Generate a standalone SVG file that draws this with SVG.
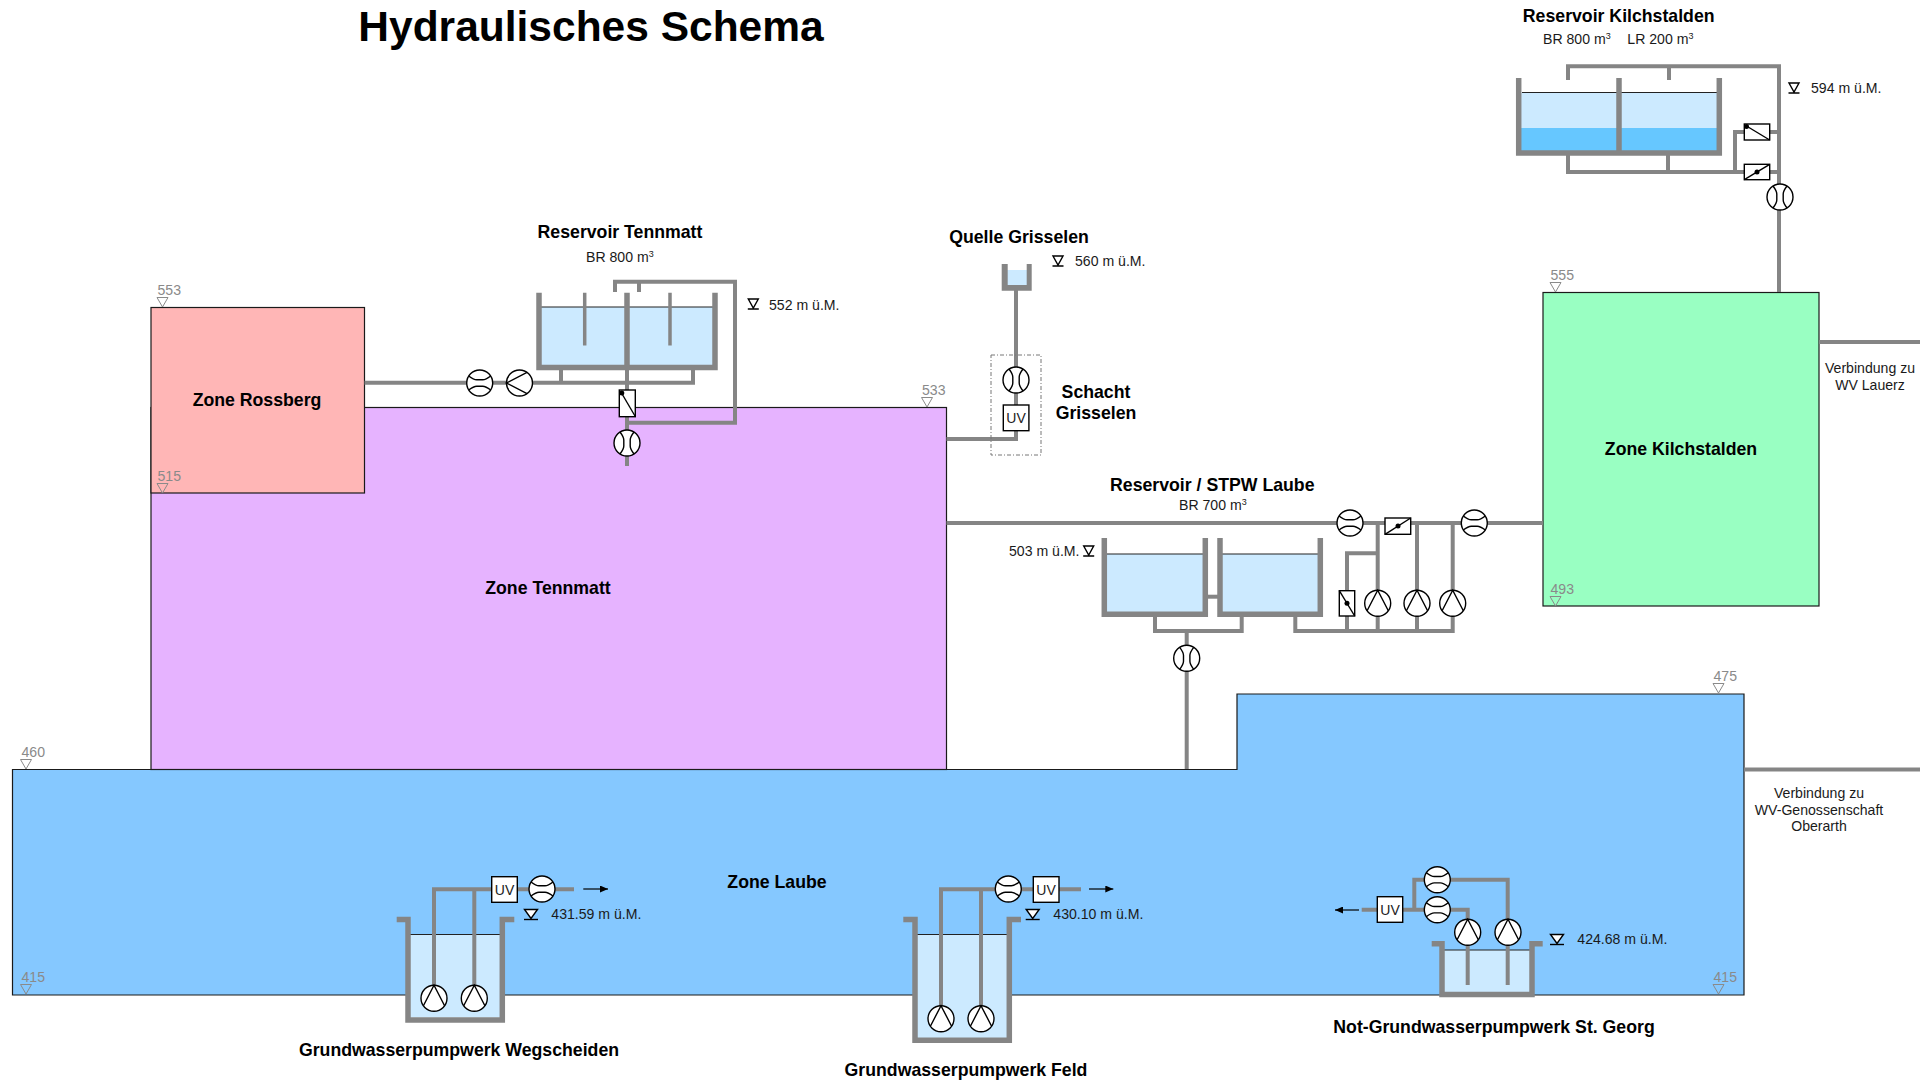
<svg xmlns="http://www.w3.org/2000/svg" xmlns:xlink="http://www.w3.org/1999/xlink" width="1930" height="1082" viewBox="0 0 1930 1082">
<style>
text{font-family:"Liberation Sans",Arial,sans-serif;fill:#1a1a1a}
.t{font-size:17.7px;font-weight:bold;text-anchor:middle;fill:#000}
.s{font-size:14.1px}
.c{text-anchor:middle}
.g{font-size:14.1px;fill:#8a8a8a}
.sup{font-size:9px}
.z{stroke:#1a1a1a;stroke-width:1.2}
.p{fill:none;stroke:#858585;stroke-width:4}
.w{fill:none;stroke:#858585;stroke-width:5.5}
.b{fill:none;stroke:#858585;stroke-width:3.5}
.water{fill:#cceaff}
.surf{stroke:#222;stroke-width:1.2;fill:none}
.sym{fill:#fff;stroke:#000;stroke-width:1.4}
.ln{fill:none;stroke:#000;stroke-width:1.4}
.uv{font-size:14px;text-anchor:middle;fill:#222}
.gt{fill:none;stroke:#8a8a8a;stroke-width:1}
</style>
<defs>
<g id="fmH"><circle class="sym" r="13"/><path class="ln" d="M-11,-7Q-6,-3.2 -3,-3.2H3Q6,-3.2 11,-7M-11,7Q-6,3.2 -3,3.2H3Q6,3.2 11,7"/></g>
<g id="fmV"><circle class="sym" r="13"/><path class="ln" d="M-7,-11Q-3.2,-6 -3.2,-3V3Q-3.2,6 -7,11M7,-11Q3.2,-6 3.2,-3V3Q3.2,6 7,11"/></g>
<g id="pumpU"><circle class="sym" r="13"/><path class="ln" d="M-10.6,7.5L0,-13L10.6,7.5"/></g>
<g id="pumpL"><circle class="sym" r="13"/><path class="ln" d="M7.5,-10.6L-13,0L7.5,10.6"/></g>
<g id="lv"><path class="ln" d="M-5,0H5L0,9ZM-5.5,10H5.5"/></g>
<g id="lvw"><path class="sym" d="M-6.5,0H6.5L0,9Z"/><path class="ln" d="M-7,10H7"/></g>
<g id="zl"><path class="gt" d="M-5.5,-9.5H5.5L0,0Z"/></g>
<marker id="arr" markerWidth="9" markerHeight="7" refX="8" refY="3.5" orient="auto" markerUnits="userSpaceOnUse"><path d="M0,0L8,3.5L0,7Z" fill="#000"/></marker>
</defs>
<rect width="1930" height="1082" fill="#fff"/>

<g id="zone-laube"><path class="z" fill="#85c8ff" d="M12.500,769.500H1237V694H1744V995H12.500Z"/><text class="t" x="777" y="888">Zone Laube</text></g>
<g id="zone-tennmatt"><rect class="z" fill="#e6b3ff" x="151" y="407.500" width="795.500" height="362"/><text class="t" x="548" y="594">Zone Tennmatt</text></g>
<g id="zone-rossberg"><rect class="z" fill="#ffb6b6" x="151" y="307.500" width="213.500" height="185.500"/><text class="t" x="257" y="406">Zone Rossberg</text></g>
<g id="zone-kilchstalden"><rect class="z" fill="#99ffc2" x="1543" y="292.500" width="276" height="313.500"/><text class="t" x="1681" y="455">Zone Kilchstalden</text></g>

<g id="zone-levels">
<use href="#zl" x="162.500" y="307"/><text class="g" x="157.500" y="295">553</text>
<use href="#zl" x="162.500" y="493"/><text class="g" x="157.500" y="481">515</text>
<use href="#zl" x="927" y="407"/><text class="g" x="922" y="395">533</text>
<use href="#zl" x="26" y="769"/><text class="g" x="21.500" y="757">460</text>
<use href="#zl" x="26" y="994"/><text class="g" x="21.500" y="982">415</text>
<use href="#zl" x="1718.500" y="693"/><text class="g" x="1713.500" y="681">475</text>
<use href="#zl" x="1718.500" y="994"/><text class="g" x="1713.500" y="982">415</text>
<use href="#zl" x="1555.500" y="292"/><text class="g" x="1550.500" y="280">555</text>
<use href="#zl" x="1555.500" y="606"/><text class="g" x="1550.500" y="594">493</text>
</g>

<g id="title"><text x="591" y="41" font-size="42.5" font-weight="bold" text-anchor="middle" style="fill:#000">Hydraulisches Schema</text></g>

<g id="tanks-water">
<rect class="water" x="541" y="307" width="172" height="59"/>
<rect class="water" x="1520" y="92.500" width="198" height="58"/>
<rect x="1520" y="128" width="198" height="23" fill="#66c7ff"/>
<rect class="water" x="1007" y="270" width="20" height="16"/>
<rect class="water" x="1106" y="554" width="98" height="59"/>
<rect class="water" x="1222" y="554" width="97" height="59"/>
<rect class="water" x="410" y="934.500" width="91" height="83"/>
<rect class="water" x="917" y="934.500" width="91" height="104"/>
<rect class="water" x="1444" y="950" width="87" height="43"/>
<path class="surf" d="M541,307H713M1522,92.500H1717M1106,554H1204M1222,554H1319M410,934.500H501M917,934.500H1008M1444,950H1531"/>
</g>

<g id="connectors">
<path class="p" d="M364.500,382.700H693V368M561,368V382.700"/>
<path class="p" d="M627,368V466"/>
<path class="p" d="M627,422.700H735V281.700H615V292M639,281.700V292"/>
<path class="p" d="M1016,288V439H946.500"/>
<path class="p" d="M946.500,523H1543"/>
<path class="p" d="M1155,615V631H1241.700V615M1186.700,631V769"/>
<path class="p" d="M1205,596.700H1220"/>
<path class="p" d="M1295.300,615V631H1452.700V523M1347,631V553.300H1377.700M1377.700,631V523M1417,631V523"/>
<path class="p" d="M1568,80V66.300H1779V292M1669,66.300V80"/>
<path class="p" d="M1568,154V172H1779M1668,154V172M1735,172V132H1779"/>
<path class="p" d="M1819,342H1920M1744,769.500H1920"/>
<path class="p" d="M434,998V889.300H574M474.300,998V889.300"/>
<path class="p" d="M941,1018V889.300H1081M981,1018V889.300"/>
<path class="p" d="M1361.700,909.700H1467.700V932M1414.300,909.700V879.700H1507.700V985M1467.700,932V985"/>
</g>

<g id="reservoir-tennmatt">
<path class="w" d="M539,292.700V367.500H715V292.700M627,292.700V367.500"/>
<path class="b" d="M584.700,292.700V345.500M670,292.700V345.500"/>
<use href="#fmH" x="479.700" y="383"/><use href="#pumpL" x="519.500" y="383"/>
<rect class="sym" x="619.300" y="390" width="16" height="26.700"/><path class="ln" d="M621.500,393L635,416"/><circle cx="621.800" cy="393" r="2.500"/>
<use href="#fmV" x="627" y="443"/>
<use href="#lv" x="753.300" y="299"/>
<text class="t" x="620" y="238">Reservoir Tennmatt</text>
<text class="s" x="586" y="262">BR 800 m<tspan class="sup" dy="-5">3</tspan></text>
<text class="s" x="769" y="310">552 m ü.M.</text>
</g>

<g id="reservoir-kilchstalden">
<path class="w" d="M1518.700,78V153H1719.300V78M1619,78V153"/>
<rect class="sym" x="1744.300" y="124" width="25.400" height="16"/><path class="ln" d="M1746.500,126L1769.700,140"/><circle cx="1746.500" cy="126.500" r="2.500"/>
<rect class="sym" x="1744.300" y="164.300" width="25.400" height="15.400"/><path class="ln" d="M1744.300,179.700L1769.700,164.300"/><circle cx="1757" cy="172" r="2.500"/>
<use href="#fmV" x="1780" y="197"/>
<use href="#lv" x="1794" y="83"/>
<text class="t" x="1618.700" y="22">Reservoir Kilchstalden</text>
<text class="s" x="1543" y="44">BR 800 m<tspan class="sup" dy="-5">3</tspan></text>
<text class="s" x="1627.300" y="44">LR 200 m<tspan class="sup" dy="-5">3</tspan></text>
<text class="s" x="1811" y="93">594 m ü.M.</text>
</g>

<g id="quelle-grisselen">
<path d="M1001.700,264H1007.700V285H1026.700V264H1031.700V290.700H1001.700Z" fill="#858585"/>
<use href="#lv" x="1058" y="256"/>
<text class="t" x="1019" y="243">Quelle Grisselen</text>
<text class="s" x="1075" y="266">560 m ü.M.</text>
</g>

<g id="schacht-grisselen">
<rect x="991" y="355" width="50" height="100" fill="none" stroke="#777" stroke-width="1" stroke-dasharray="4 2 1 2"/>
<use href="#fmV" x="1016" y="380"/>
<rect class="sym" x="1003.300" y="405" width="25.600" height="25.700"/><text class="uv" x="1016" y="423">UV</text>
<text class="t" x="1096" y="398">Schacht</text><text class="t" x="1096" y="419">Grisselen</text>
</g>

<g id="reservoir-laube">
<path class="w" d="M1104.300,538V614.200H1205.300V538M1220,538V614.200H1320.300V538"/>
<use href="#fmH" x="1350" y="523"/><use href="#fmH" x="1474.300" y="523"/>
<rect class="sym" x="1385" y="518" width="25.700" height="16.300"/><path class="ln" d="M1385,534.300L1410.700,518"/><circle cx="1398" cy="526" r="2.500"/>
<rect class="sym" x="1339.300" y="590.700" width="15.400" height="25.300"/><path class="ln" d="M1339.300,590.700L1354.700,616"/><circle cx="1347" cy="603.300" r="2.500"/>
<use href="#pumpU" x="1377.700" y="603.300"/><use href="#pumpU" x="1417" y="603.300"/><use href="#pumpU" x="1452.700" y="603.300"/>
<use href="#fmV" x="1186.700" y="658.300"/>
<use href="#lv" x="1088.700" y="546"/>
<text class="t" x="1212.300" y="491">Reservoir / STPW Laube</text>
<text class="s" x="1179" y="510">BR 700 m<tspan class="sup" dy="-5">3</tspan></text>
<text class="s" x="1009" y="556">503 m ü.M.</text>
</g>

<g id="gw-wegscheiden">
<path class="w" d="M396.700,919.500H408V1020H502.300V919.500H514.300"/>
<use href="#pumpU" x="434" y="998.300"/><use href="#pumpU" x="474.300" y="998.300"/>
<rect class="sym" x="491.700" y="876.700" width="25.600" height="25.600"/><text class="uv" x="504.500" y="894.500">UV</text>
<use href="#fmH" x="542" y="889"/>
<path d="M583.300,889H608" stroke="#000" stroke-width="1.200" marker-end="url(#arr)"/>
<use href="#lvw" x="531" y="909.500"/>
<text class="s" x="551.300" y="919">431.59 m ü.M.</text>
<text class="t" x="459" y="1056">Grundwasserpumpwerk Wegscheiden</text>
</g>

<g id="gw-feld">
<path class="w" d="M903.300,919.500H915V1040.300H1009.300V919.500H1021"/>
<use href="#pumpU" x="941" y="1018.700"/><use href="#pumpU" x="981" y="1018.700"/>
<use href="#fmH" x="1008.300" y="889"/>
<rect class="sym" x="1033.300" y="876.700" width="25.700" height="25.600"/><text class="uv" x="1046" y="894.500">UV</text>
<path d="M1089,889H1113.300" stroke="#000" stroke-width="1.200" marker-end="url(#arr)"/>
<use href="#lvw" x="1032.700" y="909.500"/>
<text class="s" x="1053.300" y="919">430.10 m ü.M.</text>
<text class="t" x="966" y="1076">Grundwasserpumpwerk Feld</text>
</g>

<g id="gw-st-georg">
<path class="w" d="M1431.700,943.700H1442V994.600H1532V943.700H1542.700"/>
<use href="#pumpU" x="1467.700" y="932.300"/><use href="#pumpU" x="1508" y="932.300"/>
<use href="#fmH" x="1437.300" y="879.700"/><use href="#fmH" x="1437.300" y="909.700"/>
<rect class="sym" x="1377.300" y="896.700" width="25.400" height="25.600"/><text class="uv" x="1390" y="914.500">UV</text>
<path d="M1359,910H1335" stroke="#000" stroke-width="1.200" marker-end="url(#arr)"/>
<use href="#lvw" x="1557" y="934.500"/>
<text class="s" x="1577.300" y="944">424.68 m ü.M.</text>
<text class="t" x="1494" y="1033">Not-Grundwasserpumpwerk St. Georg</text>
</g>

<g id="verbindung-lauerz"><text class="s c" x="1870" y="373">Verbindung zu</text><text class="s c" x="1870" y="390">WV Lauerz</text></g>
<g id="verbindung-oberarth"><text class="s c" x="1819" y="798">Verbindung zu</text><text class="s c" x="1819" y="815">WV-Genossenschaft</text><text class="s c" x="1819" y="831">Oberarth</text></g>
</svg>
